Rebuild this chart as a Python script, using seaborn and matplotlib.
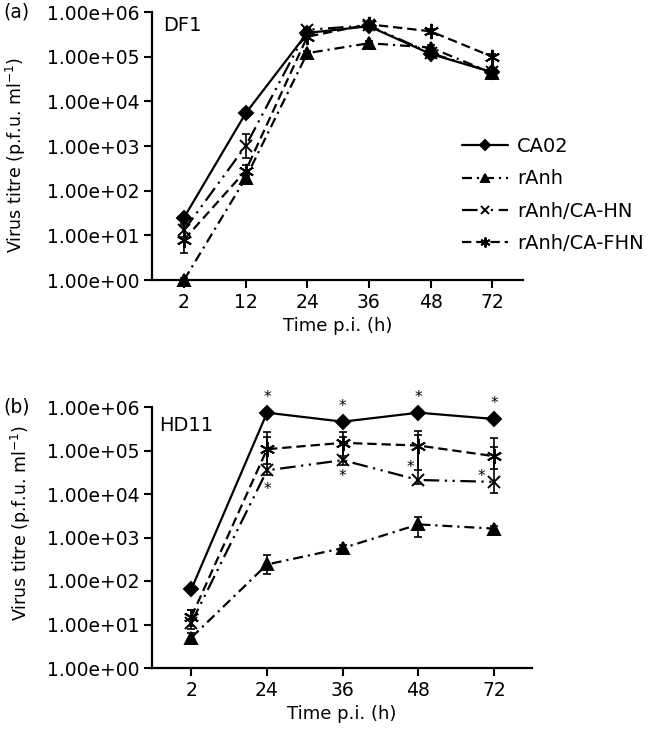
import numpy as np
import pandas as pd
import matplotlib
matplotlib.use("Agg")
import matplotlib.pyplot as plt
import seaborn as sns
from matplotlib.ticker import FuncFormatter, NullLocator

# ---- data (p.f.u. / ml) ----
strains = ["CA02", "rAnh", "rAnh/CA-HN", "rAnh/CA-FHN"]

# (a) DF1
times_df1 = ["2", "12", "24", "36", "48", "72"]
ca02_df1 = [25, 5.4e3, 3.4e5, 4.8e5, 1.15e5, 4.5e4]
ranh_df1 = [1.0, 1.9e2, 1.2e5, 2.0e5, 1.6e5, 4.3e4]
hn_df1 = [13, 1.0e3, 4.0e5, 5.0e5, 1.2e5, 4.5e4]
fhn_df1 = [8, 2.8e2, 2.8e5, 5.3e5, 3.7e5, 1.0e5]
# error bars (log10 units)
ca02_df1_err = [0.05, 0.05, 0.05, 0.05, 0.05, 0.05]
ranh_df1_err = [0.05, 0.08, 0.05, 0.05, 0.05, 0.05]
hn_df1_err = [0.15, 0.27, 0.05, 0.05, 0.05, 0.05]
fhn_df1_err = [0.3, 0.12, 0.05, 0.05, 0.05, 0.05]

# (b) HD11
times_hd11 = ["2", "24", "36", "48", "72"]
ca02_hd11 = [65, 7.4e5, 4.6e5, 7.4e5, 5.3e5]
ranh_hd11 = [5, 2.4e2, 5.7e2, 2.0e3, 1.6e3]
hn_hd11 = [11, 3.5e4, 6.0e4, 2.1e4, 1.9e4]
fhn_hd11 = [15, 1.07e5, 1.5e5, 1.3e5, 7.4e4]
# lower / upper error bars (log10 units)
ca02_hd11_lo = [0.05, 0.05, 0.05, 0.05, 0.05]
ca02_hd11_hi = [0.05, 0.05, 0.05, 0.05, 0.05]
ranh_hd11_lo = [0.1, 0.23, 0.08, 0.28, 0.05]
ranh_hd11_hi = [0.1, 0.22, 0.08, 0.16, 0.05]
hn_hd11_lo = [0.15, 0.1, 0.11, 0.1, 0.26]
hn_hd11_hi = [0.3, 0.76, 0.53, 1.04, 0.8]
fhn_hd11_lo = [0.2, 0.35, 0.3, 0.56, 0.3]
fhn_hd11_hi = [0.15, 0.4, 0.26, 0.34, 0.42]

# significance marks in (b): (strain, time)
stars_hd11 = [("CA02", "24"), ("CA02", "36"), ("CA02", "48"), ("CA02", "72"),
              ("rAnh/CA-HN", "24"), ("rAnh/CA-HN", "36"),
              ("rAnh/CA-HN", "48"), ("rAnh/CA-HN", "72")]

# ---- styles ----
# seaborn refuses to mix filled and line markers, so markers are set afterwards
markers = {"CA02": "D", "rAnh": "^", "rAnh/CA-HN": "x", "rAnh/CA-FHN": (6, 2, 0)}
dashes = {"CA02": "", "rAnh": (4.5, 2.2, 1, 2.2),
          "rAnh/CA-HN": (7, 2.5, 1, 2.5, 1, 2.5), "rAnh/CA-FHN": (4.2, 2.2)}
palette = {s: "black" for s in strains}
msize = {"CA02": 7.5, "rAnh": 8.5, "rAnh/CA-HN": 9, "rAnh/CA-FHN": 11}


def long_table(times, series):
    rows = []
    for name, vals in zip(strains, series):
        for i, (t, v) in enumerate(zip(times, vals)):
            rows.append({"pos": i, "time": t, "strain": name, "titre": v})
    return pd.DataFrame(rows)


def draw_panel(ax, times, series, lo_err, hi_err):
    df = long_table(times, series)
    sns.lineplot(data=df, x="pos", y="titre", hue="strain", style="strain",
                 palette=palette, markers=False, dashes=dashes,
                 hue_order=strains, style_order=strains,
                 lw=1.6, clip_on=False, legend=False, ax=ax)
    for line, name in zip(ax.get_lines(), strains):
        line.set_marker(markers[name])
        line.set_markersize(msize[name])
        line.set_markeredgecolor("black")
        line.set_markerfacecolor("black")
        line.set_markeredgewidth(1.4)
    for name, vals, lo, hi in zip(strains, series, lo_err, hi_err):
        v = np.array(vals, dtype=float)
        lo_abs = v - v / 10 ** np.array(lo)
        hi_abs = v * 10 ** np.array(hi) - v
        ax.errorbar(np.arange(len(times)), v, yerr=[lo_abs, hi_abs], fmt="none",
                    ecolor="black", elinewidth=1.2, capsize=3, capthick=1.2,
                    clip_on=False)

    ax.set_yscale("log")
    ax.set_ylim(1, 1e6)
    ax.set_yticks([10.0 ** k for k in range(7)])
    ax.yaxis.set_minor_locator(NullLocator())
    ax.yaxis.set_major_formatter(FuncFormatter(lambda v, p: f"{v:.2e}"))
    ax.set_xticks(range(len(times)))
    ax.set_xticklabels(times)
    ax.set_xlim(-0.52, len(times) - 0.5)
    ax.set_xlabel("Time p.i. (h)", fontsize=13, labelpad=4)
    ax.set_ylabel("Virus titre (p.f.u. ml$^{-1}$)", fontsize=12.5)
    ax.tick_params(axis="both", direction="out", length=6, width=1.5,
                   labelsize=13.5, pad=3)
    for sp in ["left", "bottom"]:
        ax.spines[sp].set_linewidth(1.6)
    sns.despine(ax=ax)


sns.set_style("ticks", {"axes.edgecolor": "black", "text.color": "black",
                        "axes.labelcolor": "black", "xtick.color": "black",
                        "ytick.color": "black"})
plt.rcParams["font.family"] = ["DejaVu Sans"]

W, H = 654, 735
fig = plt.figure(figsize=(W / 100, H / 100), dpi=100)
ax_a = fig.add_axes([152 / W, 1 - 280 / H, (523 - 152) / W, 268 / H])
ax_b = fig.add_axes([152 / W, 1 - 668 / H, (532 - 152) / W, 261 / H])

# (a)
series_a = [ca02_df1, ranh_df1, hn_df1, fhn_df1]
errs_a = [ca02_df1_err, ranh_df1_err, hn_df1_err, fhn_df1_err]
draw_panel(ax_a, times_df1, series_a, errs_a, errs_a)
ax_a.text(0.03, 0.95, "DF1", transform=ax_a.transAxes, fontsize=14, va="center")
ax_a.yaxis.set_label_coords(-0.334, 0.466)
handles = ax_a.get_lines()[:4]
ax_a.legend(handles, strains, loc="center left", bbox_to_anchor=(0.835, 0.317),
            frameon=False, fontsize=14, markerscale=0.65, handlelength=2.4,
            handletextpad=0.45, labelspacing=0.68, borderaxespad=0,
            borderpad=0)

# (b)
series_b = [ca02_hd11, ranh_hd11, hn_hd11, fhn_hd11]
draw_panel(ax_b, times_hd11, series_b,
           [ca02_hd11_lo, ranh_hd11_lo, hn_hd11_lo, fhn_hd11_lo],
           [ca02_hd11_hi, ranh_hd11_hi, hn_hd11_hi, fhn_hd11_hi])
ax_b.text(0.02, 0.93, "HD11", transform=ax_b.transAxes, fontsize=14, va="center")
ax_b.yaxis.set_label_coords(-0.312, 0.556)

star_offsets = {("CA02", "24"): (0, 11), ("CA02", "36"): (0, 11),
                ("CA02", "48"): (0, 11), ("CA02", "72"): (0, 11),
                ("rAnh/CA-HN", "24"): (0, -14), ("rAnh/CA-HN", "36"): (0, -12),
                ("rAnh/CA-HN", "48"): (-6, 9), ("rAnh/CA-HN", "72"): (-9, 4)}
vals_b = dict(zip(strains, series_b))
for name, t in stars_hd11:
    i = times_hd11.index(t)
    ax_b.annotate("*", xy=(i, vals_b[name][i]), xytext=star_offsets[(name, t)],
                  textcoords="offset points", ha="center", va="center",
                  fontsize=11)

fig.text(3 / W, 1 - 12 / H, "(a)", fontsize=13.5, va="center", ha="left")
fig.text(3 / W, 1 - 407 / H, "(b)", fontsize=13.5, va="center", ha="left")

fig.savefig("out.png", dpi=100)
